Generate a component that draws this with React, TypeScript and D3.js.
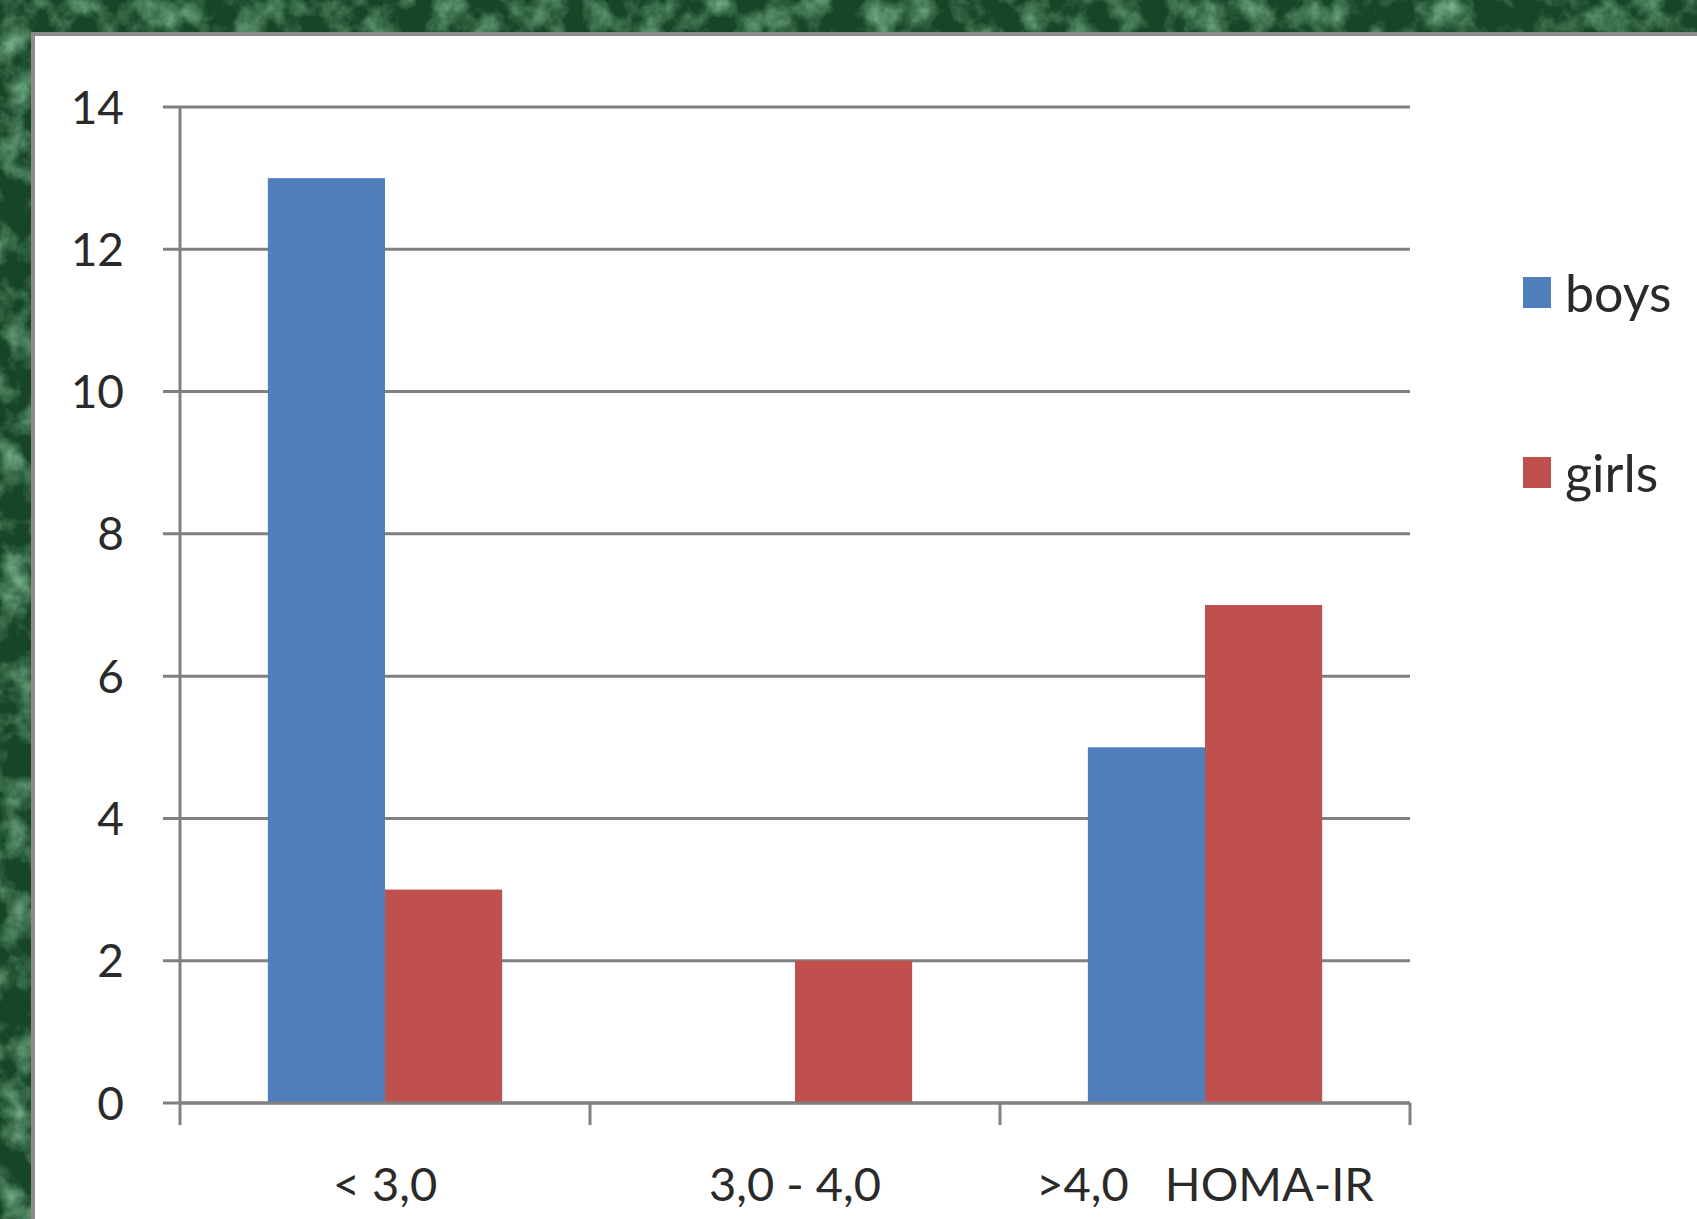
import React from "react";
import * as d3 from "d3";

const categories = ["< 3,0", "3,0 - 4,0", ">4,0   HOMA-IR"];
const seriesNames = ["boys", "girls"];
const boys = [13, 0, 5];
const girls = [3, 2, 7];
const yTicks = [0, 2, 4, 6, 8, 10, 12, 14];
const colors = ["#4F7FBC", "#C0504D"];

const W = 1697;
const H = 1219;

export default function App() {
  const left = 180, right = 1410, top = 107, bottom = 1103;
  const x = d3.scaleBand<string>().domain(categories).range([left, right]).paddingInner(0).paddingOuter(0);
  const gap = 0.75;
  const groupW = x.bandwidth() / (1 + gap);
  const xs = d3.scaleBand<string>().domain(seriesNames).range([0, groupW]);
  const y = d3.scaleLinear().domain([0, 14]).range([bottom, top]);
  const data = [boys, girls];
  const font = "Lato, 'Open Sans', sans-serif";
  const textColor = "#2a2a2a";
  const lineColor = "#808080";
  const tickPositions = [left, ...categories.map((c) => (x(c) as number) + x.bandwidth())];

  return (
    <svg width={W} height={H} style={{ position: "absolute", left: 0, top: 0 }}>
      <defs>
        <filter id="tex" x="0" y="0" width="100%" height="100%">
          <feTurbulence type="fractalNoise" baseFrequency="0.03" numOctaves="4" seed="3" result="n" />
          <feColorMatrix type="matrix" in="n"
            values="0 0 0 0 0.22  0 0 0 0 0.50  0 0 0 0 0.30  0 0 0 2.2 -0.95" />
        </filter>
      </defs>
      <rect x={0} y={0} width={W} height={H} fill="#174626" />
      <rect x={0} y={0} width={W} height={H} filter="url(#tex)" opacity={0.9} />
      <rect x={33} y={34} width={W} height={H} fill="#ffffff" stroke="#8c8c8c" strokeWidth={4} />

      {yTicks.map((t) => (
        <g key={t}>
          <line x1={163} x2={right} y1={y(t)} y2={y(t)} stroke={lineColor} strokeWidth={3} />
          <text x={124} y={y(t)} dy="0.36em" textAnchor="end" fontFamily={font} fontSize={46} fill={textColor}>
            {t}
          </text>
        </g>
      ))}
      <line x1={left} x2={left} y1={top} y2={bottom + 22} stroke={lineColor} strokeWidth={3} />
      {tickPositions.slice(1).map((p, i) => (
        <line key={i} x1={p} x2={p} y1={bottom} y2={bottom + 22} stroke={lineColor} strokeWidth={3} />
      ))}

      {categories.map((c, ci) => {
        const gx = (x(c) as number) + (x.bandwidth() - groupW) / 2;
        return (
          <g key={c}>
            {seriesNames.map((s, si) => {
              const v = data[si][ci];
              if (v === 0) return null;
              return (
                <rect key={s} x={gx + (xs(s) as number)} y={y(v)} width={xs.bandwidth()}
                  height={y(0) - y(v)} fill={colors[si]} />
              );
            })}
            <text x={(x(c) as number) + x.bandwidth() / 2} y={1201} textAnchor="middle"
              fontFamily={font} fontSize={47} fill={textColor} style={{ whiteSpace: "pre" }}>
              {c}
            </text>
          </g>
        );
      })}
      <line x1={left} x2={right} y1={bottom} y2={bottom} stroke={lineColor} strokeWidth={3} />

      {seriesNames.map((s, i) => (
        <g key={s} transform={`translate(1523, ${277 + i * 180})`}>
          <rect x={0} y={0} width={28} height={31} fill={colors[i]} />
          <text x={42} y={35} fontFamily={font} fontSize={52} fill={textColor}>
            {s}
          </text>
        </g>
      ))}
    </svg>
  );
}
